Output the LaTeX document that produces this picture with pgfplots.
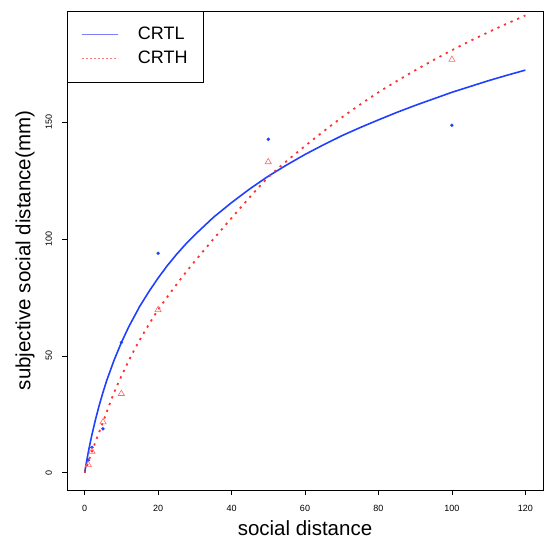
\documentclass[border=0pt]{standalone}
\usepackage{fontspec}
\setmainfont{Liberation Sans}
\usepackage{graphicx}
\usepackage{pgfplots}
\pgfplotsset{compat=1.18}

\definecolor{crtlblue}{RGB}{32,64,255}
\definecolor{crthred}{RGB}{255,48,48}
\definecolor{trired}{RGB}{255,105,105}
\definecolor{legblue}{RGB}{125,125,255}
\definecolor{legred}{RGB}{255,125,125}

\begin{document}
\begin{tikzpicture}
\begin{axis}[
    name=ax, scale only axis, width=476pt, height=479pt,
    xmin=-4.8, xmax=124.8, ymin=-7.4, ymax=197.6,
    xtick={0,20,40,60,80,100,120}, ytick={0,50,100,150},
    xtick pos=lower, ytick pos=left,
    tick align=outside, major tick length=4.5pt,
    tick style={black, line width=0.6pt},
    axis line style={line width=0.8pt},
    /pgf/number format/assume math mode=true,
    ticklabel style={font=\fontsize{9}{10}\selectfont},
    xticklabel shift=7pt,
    yticklabel shift=7pt,
    yticklabel={\rotatebox{90}{\pgfmathprintnumber{\tick}}},
    yticklabel style={anchor=east},
    xlabel={social distance}, ylabel={subjective social distance(mm)},
    label style={font=\fontsize{20.5}{23}\selectfont},
    xlabel style={yshift=-2pt},
    ylabel style={yshift=4pt},
    legend style={at={(0,1)}, anchor=north west, draw=black, line width=0.6pt,
        font=\fontsize{18}{20}\selectfont, inner xsep=14pt, inner ysep=13pt,
        nodes={inner sep=2pt, text height=13pt, text depth=4pt},
        row sep=3pt, legend cell align=left,
        /tikz/every odd column/.append style={column sep=18pt}},
    legend image code/.code={\draw[#1] (0pt,0pt) -- (36pt,0pt);},
]
% fitted curves
\addplot[crtlblue, line width=1.6pt, forget plot] coordinates
  {(0,0)(0.5,4.55)(1,8.76)(1.5,12.67)(2,16.34)(3,23.03)(4,29.0)(5,34.4)(6,39.4)(8,48.1)(10,55.7)(12,62.4)(15,71.2)(17.5,77.5)(20,83.3)(22.5,88.6)(25,93.4)(27.5,97.8)(30,101.8)(35,109.2)(40,115.6)(45,121.5)(50,126.9)(55,131.7)(60,136.2)(65,140.3)(70,144.2)(75,147.7)(80,151.0)(85,154.2)(90,157.2)(95,160.0)(100,162.8)(105,165.3)(110,167.8)(115,170.1)(120,172.3)};
\addplot[crthred, line width=1.8pt, dash pattern=on 2.2pt off 5pt, smooth, forget plot] coordinates
  {(0,0)(1,4.6)(2,9.1)(3,13.4)(5,21.7)(7.9,33.8)(10,41.3)(13,51)(16,59.5)(20,69.7)(25,80.5)(30,90.5)(40,109)(50,126.4)(60,139.8)(70,152)(80,162.8)(90,172.2)(100,180.8)(110,188.6)(120,195.7)};
% observed points
\addplot[only marks, mark=*, mark size=1.5pt, crtlblue, forget plot] coordinates
  {(1,5.3)(2,10.8)(5,18.8)(10,55.7)(20,93.9)(50,142.7)(100,148.7)};
\addplot[only marks, mark=triangle, mark size=3.6pt, trired, line width=0.6pt, forget plot] coordinates
  {(1,3.4)(2,9.1)(5,21.7)(10,33.8)(20,69.7)(50,133)(100,176.8)};
\addlegendimage{legblue, line width=0.6pt}
\addlegendentry{CRTL}
\addlegendimage{legred, line width=0.6pt, dash pattern=on 2pt off 2pt}
\addlegendentry{CRTH}
\end{axis}
\pgfresetboundingbox
\path ([shift={(-67pt,-50pt)}]ax.south west) rectangle ([shift={(2pt,11pt)}]ax.north east);
\end{tikzpicture}
\end{document}
